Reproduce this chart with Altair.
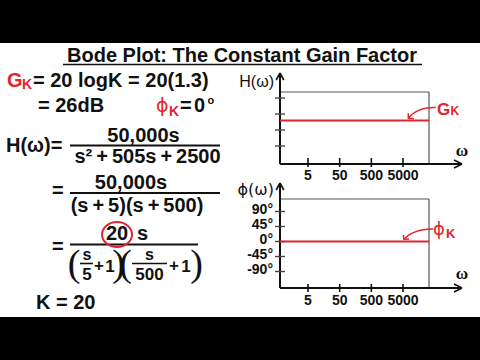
import altair as alt
import pandas as pd

# ---------------- data ----------------
freq_ticks = [5, 50, 500, 5000]
freq_tick_labels = ["5", "50", "500", "5000"]
gain_ticks = [10, 20, 30, 40]            # unlabeled dB ticks
phase_ticks = [90, 45, 0, -45, -90]
phase_tick_labels = ["90°", "45°", "0°", "-45°", "-90°"]
omega_span = [0.653, 33100]              # frequency sweep (rad/s)
gain_K_db = [26, 26]                     # G_K = 20 log(20) = 26 dB
phase_K_deg = [0, 0]                     # phi_K = 0 deg

# annotation arrows (data units)
g_arrow_omega = [53900, 28000, 15200, 9400, 7350]
g_arrow_db = [34.2, 34.0, 32.5, 29.8, 27.3]
g_head_omega = [7350, 7350, 11100]
g_head_db = [30.5, 27.3, 27.1]
p_arrow_omega = [45300, 21900, 11960, 7350, 5370]
p_arrow_deg = [37.5, 36.6, 29.4, 19.5, 6.6]
p_head_omega = [5110, 5370, 7730]
p_head_deg = [19.5, 6.6, 7.5]

# ---------------- scales ----------------
RED = "#e0262c"
INK = "#111111"
X_SCALE = alt.Scale(type="log", domain=[0.653, 33100], range=[280, 429], nice=False)
G_SCALE = alt.Scale(domain=[-1.3, 43.8], range=[164, 92], nice=False, zero=False)
P_SCALE = alt.Scale(domain=[-139.5, 127.5], range=[288, 199], nice=False, zero=False)

base = alt.Chart(pd.DataFrame({"a": [0]}))
layers = []


def txt(s, x, y, size=20, color=INK, align="left", weight="bold", font="Liberation Sans"):
    return base.mark_text(text=s, align=align, baseline="alphabetic", fontSize=size,
                          fontWeight=weight, font=font, color=color).encode(
        x=alt.value(x), y=alt.value(y))


def prule(x1, y1, x2, y2, color=INK, w=2.0):
    return base.mark_rule(color=color, strokeWidth=w).encode(
        x=alt.value(x1), x2=alt.value(x2), y=alt.value(y1), y2=alt.value(y2))


# black letterbox bars
layers.append(base.mark_rect(color="black").encode(
    x=alt.value(0), x2=alt.value(480), y=alt.value(0), y2=alt.value(43)))
layers.append(base.mark_rect(color="black").encode(
    x=alt.value(0), x2=alt.value(480), y=alt.value(317), y2=alt.value(360)))

# title
layers.append(txt("Bode Plot: The Constant Gain Factor", 242, 62, size=20, align="center"))
layers.append(prule(63, 64.5, 422, 64.5, w=1.6))

# G_K line
layers.append(txt("G", 7, 87, color=RED))
layers.append(txt("K", 22, 89, size=14, color=RED))
layers.append(txt("= 20 logK = 20(1.3)", 33, 87))
layers.append(txt("= 26dB", 38, 112))
layers.append(txt("ϕ", 156, 112, size=19, color=RED, weight="normal", font="DejaVu Sans"))
layers.append(txt("K", 169, 116, size=14, color=RED))
layers.append(txt("=", 180, 112))
layers.append(txt("0", 194, 112))
layers.append(txt("o", 207.5, 104, size=11))

# first fraction
layers.append(txt("H(ω)=", 6, 152))
layers.append(txt("50,000s", 143.5, 142, align="center"))
layers.append(prule(70, 145.5, 220, 145.5))
layers.append(txt("s²\u2009+\u2009505s\u2009+\u20092500", 147.5, 163, align="center"))

# second fraction
layers.append(txt("=", 52, 197))
layers.append(txt("50,000s", 131, 189, align="center"))
layers.append(prule(70, 193, 220, 193))
layers.append(txt("(s\u2009+\u20095)(s\u2009+\u2009500)", 137, 212, align="center"))

# third fraction
layers.append(txt("=", 52, 253))
layers.append(txt("20", 117, 240, align="center"))
layers.append(txt("s", 137, 240))
layers.append(prule(70, 244.5, 198, 244.5))
layers.append(base.mark_point(shape="M-1,0A1,0.83,0,1,1,1,0A1,0.83,0,1,1,-1,0Z", size=900,
                              filled=False, color=RED, strokeWidth=2, opacity=1).encode(
    x=alt.value(117), y=alt.value(234.5)))
for px in (74, 125.5):
    layers.append(txt("(", px, 276, size=38, weight="normal", align="center", font="Liberation Serif"))
for px in (118.5, 196.5):
    layers.append(txt(")", px, 276, size=38, weight="normal", align="center", font="Liberation Serif"))
layers.append(txt("s", 87, 260, size=16, align="center"))
layers.append(prule(80, 263.5, 93, 263.5, w=1.6))
layers.append(txt("5", 87, 280, size=17, align="center"))
layers.append(txt("+", 99, 271, size=17, align="center"))
layers.append(txt("1", 110, 272, size=17, align="center"))
layers.append(txt("s", 149.5, 260, size=16, align="center"))
layers.append(prule(132, 263.5, 167, 263.5, w=1.6))
layers.append(txt("500", 149.5, 280, size=17, align="center"))
layers.append(txt("+", 174, 271, size=17, align="center"))
layers.append(txt("1", 186, 272, size=17, align="center"))

layers.append(txt("K = 20", 36, 309))

# ---------------- plot frames ----------------
# magnitude plot
layers.append(prule(429, 92, 429, 164, color="#555555", w=1.2))
layers.append(prule(280, 92, 429, 92, color="#555555", w=1.2))
layers.append(prule(280, 164, 462, 164))
layers.append(prule(280, 74, 280, 164))
# phase plot
layers.append(prule(429, 199, 429, 288, color="#555555", w=1.2))
layers.append(prule(280, 199, 429, 199, color="#555555", w=1.2))
layers.append(prule(280, 288, 462, 288))
layers.append(prule(280, 184, 280, 288))

# arrowheads of axes
for (tx, ty) in ((280, 73), (280, 183)):
    layers.append(prule(tx, ty, tx - 3.8, ty + 7, w=1.6))
    layers.append(prule(tx, ty, tx + 3.8, ty + 7, w=1.6))
for (tx, ty) in ((462, 164), (462, 288)):
    layers.append(prule(tx, ty, tx - 8, ty - 4, w=1.6))
    layers.append(prule(tx, ty, tx - 8, ty + 4, w=1.6))

# axis titles
layers.append(txt("H(ω)", 274, 87, size=16, weight="normal", align="right"))
layers.append(txt("ϕ(ω)", 274, 195, size=16, weight="normal", align="right", font="DejaVu Sans"))
layers.append(txt("ω", 462, 156, size=17, align="center", font="Liberation Serif"))
layers.append(txt("ω", 462, 279, size=17, align="center", font="Liberation Serif"))

# ---------------- ticks via scales ----------------
ft = pd.DataFrame({"omega": freq_ticks, "label": freq_tick_labels})
for (y1, y2, yl) in ((158, 167, 180), (284, 292, 305)):
    layers.append(alt.Chart(ft).mark_rule(color=INK, strokeWidth=1.6).encode(
        x=alt.X("omega:Q", scale=X_SCALE, axis=None), y=alt.value(y1), y2=alt.value(y2)))
    layers.append(alt.Chart(ft).mark_text(align="center", baseline="alphabetic", fontSize=14,
                                          fontWeight="bold", font="Liberation Sans", color=INK).encode(
        x=alt.X("omega:Q", scale=X_SCALE, axis=None), y=alt.value(yl), text="label:N"))

gt = pd.DataFrame({"db": gain_ticks})
layers.append(alt.Chart(gt).mark_rule(color="#444444", strokeWidth=1.4).encode(
    y=alt.Y("db:Q", scale=G_SCALE, axis=None), x=alt.value(275), x2=alt.value(285)))

pt = pd.DataFrame({"deg": phase_ticks, "label": phase_tick_labels})
layers.append(alt.Chart(pt).mark_rule(color="#444444", strokeWidth=1.4).encode(
    y=alt.Y("deg:Q", scale=P_SCALE, axis=None), x=alt.value(275), x2=alt.value(285)))
layers.append(alt.Chart(pt).mark_text(align="right", baseline="middle", fontSize=14, dy=-2,
                                      fontWeight="bold", font="Liberation Sans", color=INK).encode(
    y=alt.Y("deg:Q", scale=P_SCALE, axis=None), x=alt.value(273), text="label:N"))

# ---------------- data lines ----------------
gl = pd.DataFrame({"omega": omega_span, "db": gain_K_db})
layers.append(alt.Chart(gl).mark_line(color=RED, strokeWidth=2).encode(
    x=alt.X("omega:Q", scale=X_SCALE, axis=None), y=alt.Y("db:Q", scale=G_SCALE, axis=None)))
pl = pd.DataFrame({"omega": omega_span, "deg": phase_K_deg})
layers.append(alt.Chart(pl).mark_line(color=RED, strokeWidth=2).encode(
    x=alt.X("omega:Q", scale=X_SCALE, axis=None), y=alt.Y("deg:Q", scale=P_SCALE, axis=None)))


def arrow(om, vals, field, scale, interp):
    d = pd.DataFrame({"omega": om, field: vals, "k": list(range(len(om)))})
    return alt.Chart(d).mark_line(color=RED, strokeWidth=1.5, interpolate=interp).encode(
        x=alt.X("omega:Q", scale=X_SCALE, axis=None),
        y=alt.Y(f"{field}:Q", scale=scale, axis=None), order="k:Q")


layers.append(arrow(g_arrow_omega, g_arrow_db, "db", G_SCALE, "basis"))
layers.append(arrow(g_head_omega, g_head_db, "db", G_SCALE, "linear"))
layers.append(arrow(p_arrow_omega, p_arrow_deg, "deg", P_SCALE, "basis"))
layers.append(arrow(p_head_omega, p_head_deg, "deg", P_SCALE, "linear"))

# labels for the curves
layers.append(txt("G", 437, 115, size=17, color=RED))
layers.append(txt("K", 450.5, 115, size=12, color=RED))
layers.append(txt("ϕ", 433, 235, size=18, color=RED, weight="normal", font="DejaVu Sans"))
layers.append(txt("K", 446, 238, size=13, color=RED))

chart = alt.layer(*layers).resolve_scale(x="independent", y="independent").properties(
    width=480, height=360, autosize=alt.AutoSizeParams(type="none"), padding=0,
    background="white").configure_view(strokeWidth=0)

chart.save("out.html", embed_options={"renderer": "svg", "actions": False})
